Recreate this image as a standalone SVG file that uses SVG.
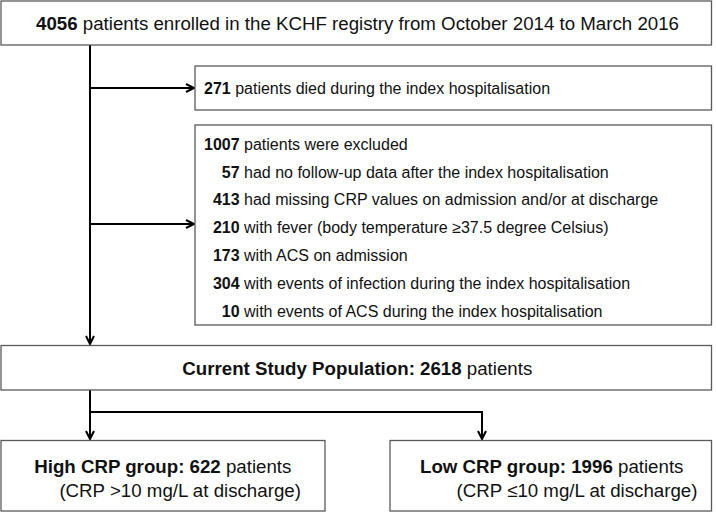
<svg xmlns="http://www.w3.org/2000/svg" width="716" height="513" viewBox="0 0 716 513">
  <style>
    .box { fill: #ffffff; stroke: #5a5a5a; stroke-width: 1.3; }
    .conn { fill: none; stroke: #000000; stroke-width: 2; }
    text { font-family: "Liberation Sans", Arial, sans-serif; fill: #111111; }
    .big { font-size: 18.7px; }
    .small { font-size: 16px; }
    .b { font-weight: bold; }
  </style>
  <defs>
    <marker id="arrow" markerUnits="userSpaceOnUse" markerWidth="12" markerHeight="12" refX="9" refY="5" orient="auto">
      <path d="M1,1 L9,5 L1,9" fill="none" stroke="#000" stroke-width="2"/>
    </marker>
  </defs>
  <rect width="716" height="513" fill="#ffffff"/>

  <g id="connectors">
    <line class="conn" x1="90" y1="45" x2="90" y2="344" marker-end="url(#arrow)"/>
    <line class="conn" x1="90" y1="88" x2="194" y2="88" marker-end="url(#arrow)"/>
    <line class="conn" x1="90" y1="224" x2="194" y2="224" marker-end="url(#arrow)"/>
    <line class="conn" x1="90" y1="390" x2="90" y2="439" marker-end="url(#arrow)"/>
    <polyline class="conn" points="90,412 482,412 482,439" marker-end="url(#arrow)"/>
  </g>

  <g id="enrolled">
    <rect class="box" x="1" y="1" width="710.5" height="44"/>
    <text class="big" x="357.5" y="30" text-anchor="middle"><tspan class="b">4056</tspan> patients enrolled in the KCHF registry from October 2014 to March 2016</text>
  </g>

  <g id="died">
    <rect class="box" x="195" y="66" width="516.5" height="44"/>
    <text class="small" x="204" y="93.7"><tspan class="b">271</tspan> patients died during the index hospitalisation</text>
  </g>

  <g id="excluded">
    <rect class="box" x="195" y="125" width="516.5" height="200"/>
    <text class="small" x="204" y="149.7"><tspan class="b">1007</tspan> patients were excluded</text>
    <text class="small" x="221.8" y="177.5"><tspan class="b">57</tspan> had no follow-up data after the index hospitalisation</text>
    <text class="small" x="212.9" y="205.3"><tspan class="b">413</tspan> had missing CRP values on admission and/or at discharge</text>
    <text class="small" x="212.9" y="233"><tspan class="b">210</tspan> with fever (body temperature ≥37.5 degree Celsius)</text>
    <text class="small" x="212.9" y="261"><tspan class="b">173</tspan> with ACS on admission</text>
    <text class="small" x="212.9" y="288.8"><tspan class="b">304</tspan> with events of infection during the index hospitalisation</text>
    <text class="small" x="221.8" y="316.6"><tspan class="b">10</tspan> with events of ACS during the index hospitalisation</text>
  </g>

  <g id="study">
    <rect class="box" x="1" y="345.5" width="710.5" height="44.5"/>
    <text class="big" x="357.3" y="374.5" text-anchor="middle"><tspan class="b">Current Study Population: 2618</tspan> patients</text>
  </g>

  <g id="high">
    <rect class="box" x="1" y="440.5" width="324" height="70.5"/>
    <text class="big" x="34.2" y="473.3"><tspan class="b">High CRP group: 622</tspan> patients</text>
    <text class="big" x="59.4" y="497"><tspan>(CRP &gt;10 mg/L at discharge)</tspan></text>
  </g>

  <g id="low">
    <rect class="box" x="390" y="440.5" width="321.5" height="70.5"/>
    <text class="big" x="420" y="473.3"><tspan class="b">Low CRP group: 1996</tspan> patients</text>
    <text class="big" x="456.6" y="497">(CRP ≤10 mg/L at discharge)</text>
  </g>
</svg>
